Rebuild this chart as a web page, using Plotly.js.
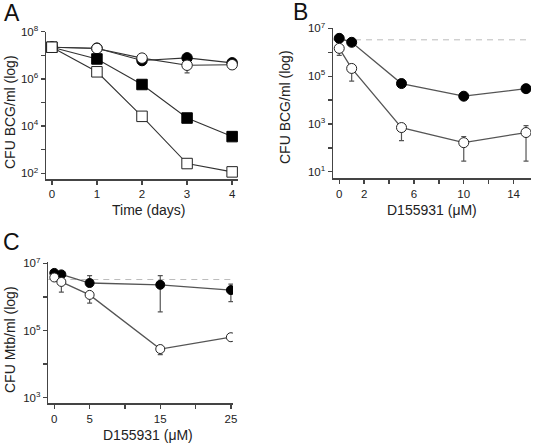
<!DOCTYPE html>
<html>
<head>
<meta charset="utf-8">
<script src="https://cdn.plot.ly/plotly-3.0.1.min.js"></script>
<style>html,body{margin:0;padding:0;background:#fff;}#chart{width:533px;height:447px;}</style>
</head>
<body>
<div id="chart"></div>
<script>
// ---- Panel A: CFU BCG/ml over time ----
var daysA = [0, 1, 2, 3, 4];
var aFilledCircle = [2.2e7, 2.0e7, 6.0e6, 7.8e6, 4.8e6];
var aOpenCircle   = [2.2e7, 1.95e7, 7.6e6, 3.8e6, 4.0e6];
var aOpenCircleLo = [2.2e7, 1.95e7, 7.6e6, 1.8e6, 2.6e6];
var aFilledSquare = [2.2e7, 7.0e6, 5.8e5, 2.2e4, 3.6e3];
var aOpenSquare   = [2.2e7, 2.0e6, 2.6e4, 2.6e2, 1.15e2];

// ---- Panel B: CFU BCG/ml vs D155931 ----
var concB = [0, 1, 5, 10, 15];
var bFilled   = [3.8e6, 2.6e6, 4.9e4, 1.45e4, 3.0e4];
var bOpen     = [1.45e6, 2.1e5, 7.1e2, 1.66e2, 4.4e2];
var bOpenHi   = [1.45e6, 2.1e5, 7.1e2, 3.0e2, 8.5e2];
var bOpenLo   = [7.4e5, 6.2e4, 2.0e2, 28, 28];
var baselineB = 3.3e6;

// ---- Panel C: CFU Mtb/ml vs D155931 ----
var concC = [0, 1, 5, 15, 25];
var cFilled   = [5.2e6, 4.7e6, 2.6e6, 2.3e6, 1.6e6];
var cFilledHi = [5.2e6, 4.7e6, 4.3e6, 4.3e6, 2.4e6];
var cFilledLo = [5.2e6, 4.7e6, 2.6e6, 3.6e5, 7.2e5];
var cOpen     = [3.8e6, 2.8e6, 1.15e6, 2.8e4, 6.3e4];
var cOpenHi   = [3.8e6, 2.8e6, 1.15e6, 2.8e4, 6.3e4];
var cOpenLo   = [3.8e6, 1.4e6, 6.5e5, 1.9e4, 6.3e4];
var baselineC = 3.3e6;

// tick labels
var tickValsA = [1e2,1e3,1e4,1e5,1e6,1e7,1e8];
var tickTextA = ['10<sup>2</sup>','','10<sup>4</sup>','','10<sup>6</sup>','','10<sup>8</sup>'];
var tickValsB = [1e1,1e2,1e3,1e4,1e5,1e6,1e7];
var tickTextB = ['10<sup>1</sup>','','10<sup>3</sup>','','10<sup>5</sup>','','10<sup>7</sup>'];
var tickValsC = [1e3,1e4,1e5,1e6,1e7];
var tickTextC = ['10<sup>3</sup>','','10<sup>5</sup>','','10<sup>7</sup>'];
var xTickValsA = [0,1,2,3,4];
var xTickTextA = ['0','1','2','3','4'];
var xTickValsB = [0,2,4,6,8,10,12,14];
var xTickTextB = ['0','2','','6','','10','','14'];
var xTickValsC = [0,5,10,15,20,25];
var xTickTextC = ['0','5','','15','','25'];

function errs(y, hi, lo) {
  return {
    type: 'data', symmetric: false,
    array: y.map(function(v,i){return hi[i]-v;}),
    arrayminus: y.map(function(v,i){return v-lo[i];}),
    color: '#555', thickness: 1.2, width: 2.5
  };
}

var lineA = {color: '#333', width: 1.1};
var lineBC = {color: '#555', width: 1.3};
var filledM = function(sym, sz){return {symbol: sym, size: sz, color: '#000', line: {color: '#000', width: 1}};};
var openM = function(sym, sz){return {symbol: sym, size: sz, color: '#fff', line: {color: '#222', width: 1}};};

var traces = [
  {x: daysA, y: aFilledCircle, xaxis: 'x', yaxis: 'y', mode: 'lines+markers', line: lineA, marker: filledM('circle', 10.5)},
  {x: daysA, y: aOpenCircle, xaxis: 'x', yaxis: 'y', mode: 'lines+markers', line: lineA, marker: openM('circle', 10.5),
   error_y: errs(aOpenCircle, aOpenCircle, aOpenCircleLo)},
  {x: daysA, y: aFilledSquare, xaxis: 'x', yaxis: 'y', mode: 'lines+markers', line: lineA, marker: filledM('square', 10.5)},
  {x: daysA, y: aOpenSquare, xaxis: 'x', yaxis: 'y', mode: 'lines+markers', line: lineA, marker: openM('square', 10.5)},

  {x: concB, y: bFilled, xaxis: 'x2', yaxis: 'y2', mode: 'lines+markers', line: lineBC, marker: filledM('circle', 10)},
  {x: concB, y: bOpen, xaxis: 'x2', yaxis: 'y2', mode: 'lines+markers', line: lineBC, marker: openM('circle', 10),
   error_y: errs(bOpen, bOpenHi, bOpenLo)},

  {x: concC, y: cFilled, xaxis: 'x3', yaxis: 'y3', mode: 'lines+markers', line: lineBC, marker: filledM('circle', 9),
   error_y: errs(cFilled, cFilledHi, cFilledLo)},
  {x: concC, y: cOpen, xaxis: 'x3', yaxis: 'y3', mode: 'lines+markers', line: lineBC, marker: openM('circle', 9),
   error_y: errs(cOpen, cOpenHi, cOpenLo)}
];

var W = 533, H = 447;
function dx(a, b){return [a/W, b/W];}
function dy(top, bot){return [1-bot/H, 1-top/H];}

var axisCommon = {
  showgrid: false, zeroline: false, showline: true, linecolor: '#444', linewidth: 1.5,
  ticks: 'outside', ticklen: 4, tickwidth: 1.3, tickcolor: '#444',
  tickfont: {family: 'Liberation Sans, Arial, sans-serif', size: 11.5, color: '#222'},
  mirror: false, fixedrange: true
};
function ax(extra){ var o = {}; for (var k in axisCommon) o[k] = axisCommon[k]; for (var k2 in extra) o[k2] = extra[k2]; return o; }

var tf = {family: 'Liberation Sans, Arial, sans-serif', size: 14, color: '#222'};
var lf = {family: 'Liberation Sans, Arial, sans-serif', size: 23, color: '#111'};

function ann(text, x, y, font, rot) {
  return {text: text, xref: 'paper', yref: 'paper', x: x/W, y: 1-y/H, xanchor: 'center', yanchor: 'middle',
          showarrow: false, font: font, textangle: rot || 0};
}

var layout = {
  width: W, height: H, margin: {l: 0, r: 0, t: 0, b: 0},
  paper_bgcolor: '#fff', plot_bgcolor: 'rgba(0,0,0,0)', showlegend: false,
  xaxis: ax({domain: dx(46, 238), range: [-0.13, 4.13], anchor: 'y', tickvals: xTickValsA, ticktext: xTickTextA}),
  yaxis: ax({domain: dy(31.7, 179), type: 'log', range: [1.76, 8.0], anchor: 'x', tickvals: tickValsA, ticktext: tickTextA}),
  xaxis2: ax({domain: dx(333, 531), range: [-0.5, 15.4], anchor: 'y2', tickvals: xTickValsB, ticktext: xTickTextB}),
  yaxis2: ax({domain: dy(28.3, 178.3), type: 'log', range: [0.73, 7.0], anchor: 'x2', tickvals: tickValsB, ticktext: tickTextB}),
  xaxis3: ax({domain: dx(48.3, 233), range: [-0.85, 25.3], anchor: 'y3', tickvals: xTickValsC, ticktext: xTickTextC}),
  yaxis3: ax({domain: dy(261.7, 403.3), type: 'log', range: [2.83, 7.05], anchor: 'x3', tickvals: tickValsC, ticktext: tickTextC}),
  shapes: [
    {type: 'line', xref: 'x2 domain', yref: 'y2', x0: 0, x1: 1, y0: baselineB, y1: baselineB,
     line: {color: '#bbb', width: 1, dash: '6px,5px'}, layer: 'below'},
    {type: 'line', xref: 'x3 domain', yref: 'y3', x0: 0, x1: 1, y0: baselineC, y1: baselineC,
     line: {color: '#bbb', width: 1, dash: '6px,5px'}, layer: 'below'}
  ],
  annotations: [
    ann('A', 12, 13, lf), ann('B', 300, 12, lf), ann('C', 11, 242, lf),
    ann('Time (days)', 148, 210, tf),
    ann('D155931 (μM)', 432, 210, tf),
    ann('D155931 (μM)', 148, 435, tf),
    ann('CFU BCG/ml (log)', 10, 112, tf, -90),
    ann('CFU BCG/ml (log)', 285, 107, tf, -90),
    ann('CFU Mtb/ml (log)', 10, 340, tf, -90)
  ]
};

Plotly.newPlot('chart', traces, layout, {displayModeBar: false, staticPlot: true});
</script>
</body>
</html>
